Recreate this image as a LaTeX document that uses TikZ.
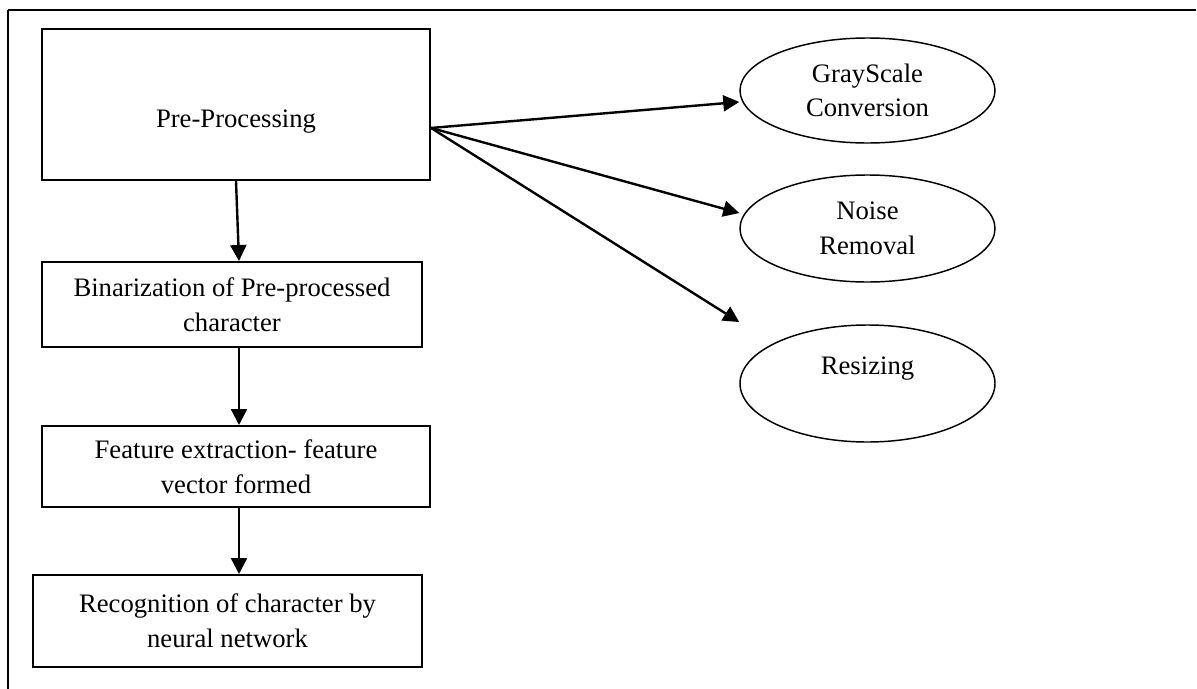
\documentclass[tikz,border=0pt]{standalone}
\usepackage{fontspec}
\setmainfont{Liberation Serif}
\usepackage{tikz}
\usetikzlibrary{arrows.meta,positioning,shapes.geometric}
\newcommand{\capfont}{\fontsize{20}{26}\selectfont}
\tikzset{
  blk/.style={draw=black, line width=1.5pt, minimum width=291pt, inner sep=0pt,
              align=center, font=\capfont},
  ell/.style={ellipse, draw=black, line width=1.1pt, minimum width=191.25pt,
              inner sep=0pt, align=center, font=\capfont},
  ar/.style={-{Triangle[length=12pt,width=12pt]}, line width=1.8pt, draw=black},
}

\begin{document}
\begin{tikzpicture}[x=0.75pt, y=-0.75pt]
  \useasboundingbox (0,0) rectangle (1197,689);
  % frame
  \draw[line width=1.8pt] (8,10) -- (1196,10);
  \draw[line width=1.2pt] (8,9.5) -- (8,689);

  % main steps
  \node[blk, minimum height=113.25pt, text height=39.5pt] (pre) at (236,104.5) {Pre-Processing};
  \node[blk, minimum width=285pt, minimum height=63.75pt] (bin) at (232,304.5)
       {Binarization of Pre-processed\\character};
  \node[blk, minimum height=60.75pt] (feat) at (236,466.5)
       {Feature extraction- feature\\vector formed};
  \node[blk, minimum width=291.75pt, minimum height=69pt] (rec) at (227.5,621)
       {Recognition of character by\\neural network};

  % pre-processing parts
  \node[ell, minimum height=78.75pt] (gray) at (867.5,90.5) {GrayScale\\Conversion};
  \node[ell, minimum height=80.25pt] (noise) at (867.5,228.5) {Noise\\Removal};
  \node[ell, minimum height=87.75pt] (resz) at (867.5,383.5) {Resizing\\\mbox{}};

  \coordinate (fan) at ([yshift=-17.6pt]pre.east);
  \coordinate (spine) at (239,0);

  % arrows
  \draw[ar] (pre.south) -- ([xshift=5.25pt]bin.north);
  \draw[ar] (bin.south -| spine) -- (feat.north -| spine);
  \draw[ar] (feat.south -| spine) -- (rec.north -| spine);
  \draw[ar] (fan) -- ([yshift=-8.6pt]gray.west);
  \draw[ar] (fan) -- ([yshift=11.6pt]noise.west);
  \draw[ar] (fan) -- ([yshift=46.1pt]resz.west);
\end{tikzpicture}
\end{document}
